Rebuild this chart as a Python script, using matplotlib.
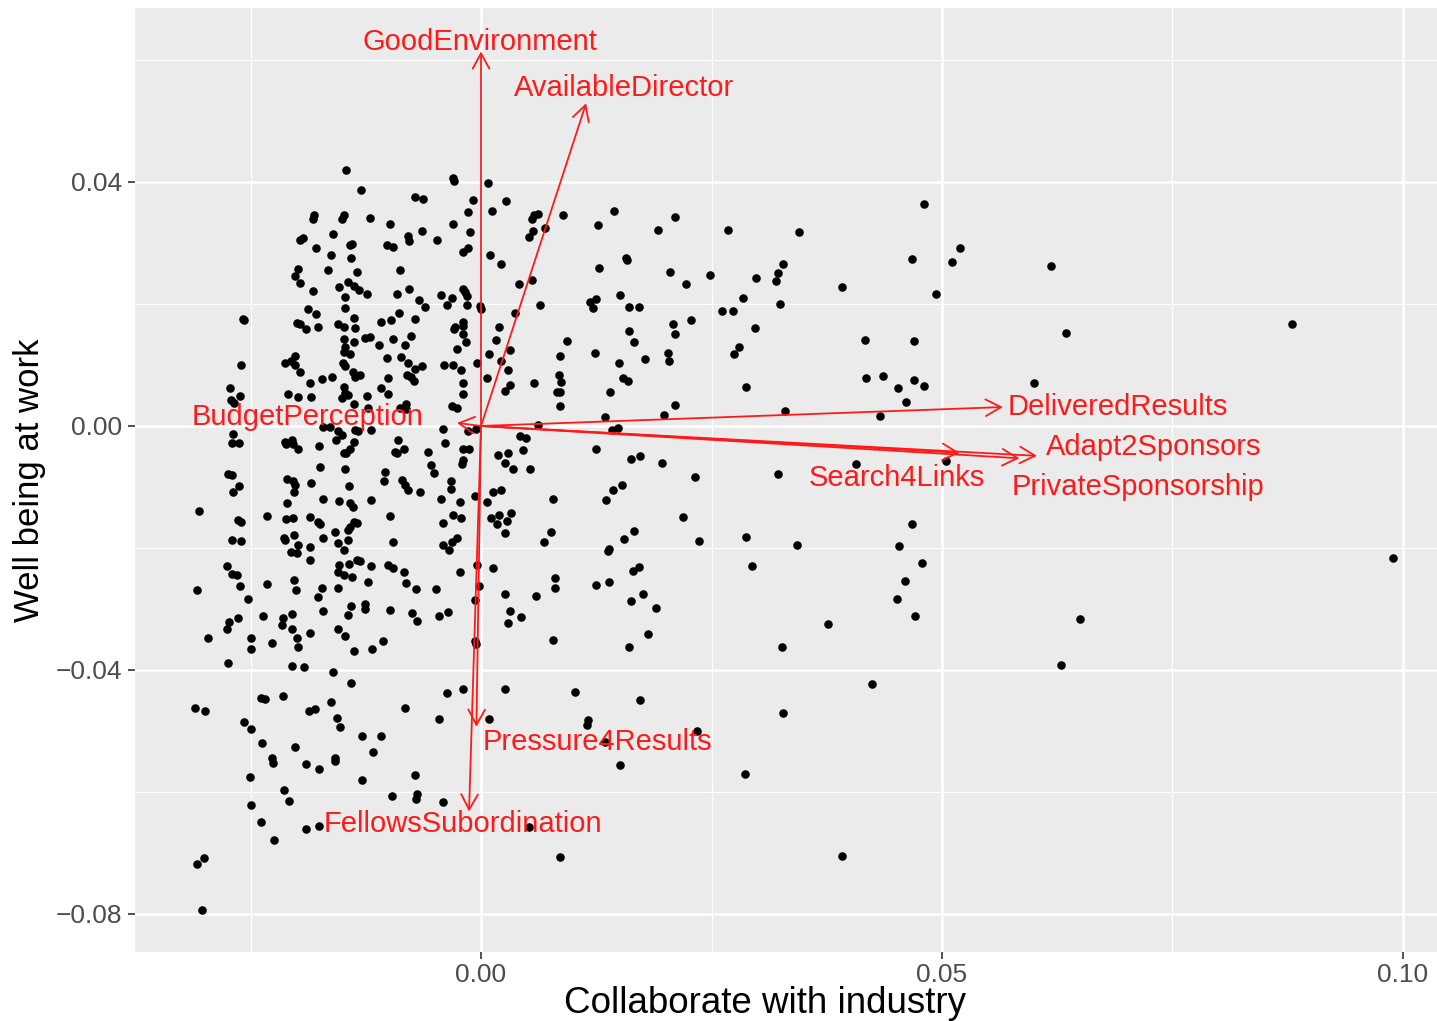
import numpy as np
import matplotlib.pyplot as plt

plt.rcParams['font.family'] = ['Liberation Sans', 'DejaVu Sans']

# individuals (scores)
pts = [
    # upper left block
    (-0.0146, 0.0420), (-0.0130, 0.0387), (-0.0181, 0.0346), (-0.0182, 0.0340), (-0.0149, 0.0346),
    (-0.0151, 0.0340), (-0.0120, 0.0341), (-0.0196, 0.0305), (-0.0193, 0.0308), (-0.0161, 0.0315),
    (-0.0140, 0.0299), (-0.0142, 0.0296), (-0.0179, 0.0292), (-0.0163, 0.0280), (-0.0141, 0.0275),
    (-0.0199, 0.0257), (-0.0202, 0.0246), (-0.0196, 0.0235), (-0.0166, 0.0255), (-0.0135, 0.0252),
    (-0.0182, 0.0221), (-0.0154, 0.0228), (-0.0144, 0.0236), (-0.0138, 0.0230), (-0.0132, 0.0223),
    (-0.0124, 0.0217), (-0.0148, 0.0211), (-0.0147, 0.0194), (-0.0188, 0.0191), (-0.0179, 0.0183),
    (-0.0258, 0.0175), (-0.0257, 0.0173), (-0.0200, 0.0169), (-0.0196, 0.0167), (-0.0190, 0.0159),
    (-0.0177, 0.0162), (-0.0155, 0.0168), (-0.0149, 0.0163), (-0.0138, 0.0177), (-0.0137, 0.0161),
    (-0.0149, 0.0142), (-0.0138, 0.0138), (-0.0126, 0.0144), (-0.0120, 0.0146), (-0.0147, 0.0130),
    (-0.0149, 0.0122), (-0.0142, 0.0118), (-0.0202, 0.0115), (-0.0213, 0.0103), (-0.0206, 0.0107),
    (-0.0202, 0.0100), (-0.0260, 0.0100), (-0.0150, 0.0103), (-0.0148, 0.0099), (-0.0196, 0.0088),
    (-0.0139, 0.0089), (-0.0137, 0.0081), (-0.0131, 0.0084), (-0.0185, 0.0071), (-0.0172, 0.0077),
    (-0.0162, 0.0081), (-0.0272, 0.0062), (-0.0209, 0.0053), (-0.0198, 0.0047), (-0.0184, 0.0047),
    (-0.0149, 0.0064), (-0.0148, 0.0054), (-0.0151, 0.0046), (-0.0144, 0.0050), (-0.0124, 0.0049),
    (-0.0261, 0.0049), (-0.0271, 0.0042), (-0.0268, 0.0038), (-0.0138, 0.0036), (-0.0123, 0.0029),
    # upper middle block
    (-0.0030, 0.0406), (-0.0029, 0.0401), (0.0008, 0.0399), (-0.0072, 0.0376), (-0.0063, 0.0372),
    (-0.0009, 0.0370), (0.0027, 0.0369), (0.0012, 0.0352), (-0.0014, 0.0350), (-0.0099, 0.0331),
    (-0.0030, 0.0331), (-0.0064, 0.0319), (-0.0012, 0.0318), (-0.0079, 0.0312), (-0.0078, 0.0303),
    (-0.0048, 0.0305), (-0.0102, 0.0296), (-0.0095, 0.0293), (-0.0014, 0.0292), (-0.0020, 0.0286),
    (0.0010, 0.0280), (0.0022, 0.0266), (0.0057, 0.0346), (0.0062, 0.0347), (0.0055, 0.0340),
    (0.0069, 0.0324), (0.0056, 0.0320), (0.0052, 0.0310), (0.0089, 0.0346), (-0.0088, 0.0255),
    (0.0055, 0.0239), (0.0041, 0.0232), (-0.0078, 0.0224), (-0.0091, 0.0216), (-0.0043, 0.0215),
    (-0.0020, 0.0225), (-0.0017, 0.0220), (-0.0015, 0.0213), (-0.0031, 0.0209), (-0.0067, 0.0207),
    (-0.0061, 0.0195), (-0.0037, 0.0198), (-0.0015, 0.0198), (-0.0001, 0.0196), (0.0000, 0.0192),
    (0.0064, 0.0199), (0.0037, 0.0185), (-0.0089, 0.0186), (-0.0109, 0.0170), (-0.0098, 0.0174),
    (-0.0072, 0.0176), (-0.0020, 0.0171), (-0.0019, 0.0164), (-0.0028, 0.0163), (-0.0029, 0.0159),
    (0.0019, 0.0163), (-0.0020, 0.0150), (-0.0096, 0.0142), (-0.0076, 0.0148), (-0.0016, 0.0138),
    (0.0016, 0.0141), (-0.0111, 0.0132), (-0.0082, 0.0132), (-0.0026, 0.0126), (0.0031, 0.0125),
    (0.0009, 0.0118), (-0.0102, 0.0112), (-0.0087, 0.0113), (-0.0079, 0.0104), (0.0022, 0.0107),
    (0.0086, 0.0114), (-0.0004, 0.0104), (-0.0064, 0.0099), (-0.0072, 0.0093), (-0.0040, 0.0100),
    (-0.0030, 0.0100), (-0.0022, 0.0092), (0.0029, 0.0092), (-0.0080, 0.0084), (-0.0076, 0.0081),
    (-0.0073, 0.0073), (-0.0101, 0.0079), (0.0085, 0.0083), (0.0087, 0.0072), (0.0006, 0.0078),
    (0.0058, 0.0070), (-0.0019, 0.0070), (0.0031, 0.0068), (0.0026, 0.0058), (-0.0109, 0.0063),
    (-0.0101, 0.0052), (-0.0019, 0.0052), (0.0082, 0.0055), (0.0086, 0.0055), (0.0086, 0.0033),
    (-0.0032, 0.0033), (-0.0026, 0.0029), (-0.0088, 0.0029), (-0.0081, 0.0036), (-0.0081, 0.0028),
    # lower left block
    (-0.0269, -0.0013), (-0.0270, -0.0028), (-0.0263, -0.0028), (-0.0213, -0.0026), (-0.0205, -0.0023),
    (-0.0204, -0.0030), (-0.0198, -0.0038), (-0.0211, -0.0030), (-0.0176, -0.0033), (-0.0171, -0.0001),
    (-0.0164, -0.0001), (-0.0155, -0.0009), (-0.0157, -0.0023), (-0.0151, -0.0015), (-0.0137, -0.0007),
    (-0.0133, -0.0009), (-0.0138, -0.0026), (-0.0142, -0.0037), (-0.0146, -0.0044), (-0.0149, -0.0045),
    (-0.0119, -0.0007), (-0.0274, -0.0078), (-0.0270, -0.0080), (-0.0262, -0.0098), (-0.0269, -0.0108),
    (-0.0175, -0.0067), (-0.0148, -0.0071), (-0.0210, -0.0087), (-0.0204, -0.0091), (-0.0202, -0.0097),
    (-0.0203, -0.0108), (-0.0184, -0.0093), (-0.0143, -0.0099), (-0.0171, -0.0119), (-0.0154, -0.0123),
    (-0.0142, -0.0126), (-0.0139, -0.0132), (-0.0119, -0.0121), (-0.0210, -0.0127), (-0.0306, -0.0139),
    (-0.0232, -0.0147), (-0.0264, -0.0154), (-0.0260, -0.0157), (-0.0211, -0.0153), (-0.0204, -0.0151),
    (-0.0185, -0.0149), (-0.0177, -0.0158), (-0.0175, -0.0161), (-0.0158, -0.0173), (-0.0138, -0.0157),
    (-0.0142, -0.0165), (-0.0144, -0.0170), (-0.0135, -0.0159), (-0.0270, -0.0187), (-0.0260, -0.0188),
    (-0.0214, -0.0184), (-0.0213, -0.0187), (-0.0203, -0.0178), (-0.0198, -0.0195), (-0.0206, -0.0207),
    (-0.0200, -0.0209), (-0.0171, -0.0184), (-0.0155, -0.0192), (-0.0144, -0.0187), (-0.0149, -0.0203),
    (-0.0185, -0.0199), (-0.0186, -0.0220), (-0.0276, -0.0229), (-0.0270, -0.0243), (-0.0265, -0.0245),
    (-0.0261, -0.0262), (-0.0232, -0.0259), (-0.0203, -0.0252), (-0.0201, -0.0269), (-0.0154, -0.0228),
    (-0.0155, -0.0239), (-0.0149, -0.0245), (-0.0140, -0.0247), (-0.0143, -0.0227), (-0.0135, -0.0220),
    (-0.0131, -0.0221), (-0.0119, -0.0229), (-0.0123, -0.0255), (-0.0155, -0.0266), (-0.0173, -0.0266),
    (-0.0177, -0.0280), (-0.0308, -0.0269), (-0.0253, -0.0284), (-0.0141, -0.0295), (-0.0126, -0.0292),
    (-0.0126, -0.0300), (-0.0171, -0.0303), (-0.0144, -0.0310), (-0.0205, -0.0308), (-0.0236, -0.0311),
    (-0.0264, -0.0314), (-0.0273, -0.0321), (-0.0275, -0.0333), (-0.0215, -0.0315), (-0.0216, -0.0326),
    (-0.0205, -0.0332), (-0.0155, -0.0333), (-0.0148, -0.0344), (-0.0185, -0.0339), (-0.0200, -0.0347),
    (-0.0198, -0.0363), (-0.0296, -0.0348), (-0.0249, -0.0348), (-0.0249, -0.0366), (-0.0227, -0.0356),
    (-0.0138, -0.0369), (-0.0118, -0.0366), (-0.0274, -0.0389), (-0.0205, -0.0393), (-0.0192, -0.0395),
    (-0.0160, -0.0404), (-0.0141, -0.0422), (-0.0310, -0.0463), (-0.0299, -0.0467), (-0.0239, -0.0446),
    (-0.0234, -0.0448), (-0.0215, -0.0442), (-0.0187, -0.0468), (-0.0180, -0.0464), (-0.0163, -0.0452),
    (-0.0156, -0.0479), (-0.0153, -0.0493), (-0.0257, -0.0485), (-0.0249, -0.0497), (-0.0238, -0.0520),
    (-0.0202, -0.0526), (-0.0129, -0.0508), (-0.0117, -0.0535), (-0.0227, -0.0545), (-0.0226, -0.0553),
    (-0.0190, -0.0554), (-0.0176, -0.0563), (-0.0158, -0.0544), (-0.0158, -0.0550), (-0.0251, -0.0575),
    (-0.0129, -0.0581), (-0.0214, -0.0597), (-0.0208, -0.0615), (-0.0249, -0.0622), (-0.0239, -0.0649),
    (-0.0190, -0.0661), (-0.0176, -0.0655), (-0.0224, -0.0679), (-0.0308, -0.0718), (-0.0300, -0.0709),
    (-0.0303, -0.0793),
    # lower middle block
    (-0.0041, -0.0005), (-0.0014, -0.0008), (-0.0005, -0.0005), (0.0062, 0.0001), (-0.0090, -0.0023),
    (-0.0039, -0.0028), (0.0042, -0.0016), (0.0049, -0.0020), (-0.0091, -0.0045), (-0.0093, -0.0042),
    (-0.0084, -0.0038), (-0.0057, -0.0043), (-0.0019, -0.0037), (-0.0013, -0.0037), (-0.0019, -0.0056),
    (-0.0021, -0.0062), (0.0018, -0.0048), (0.0029, -0.0044), (0.0046, -0.0039), (0.0026, -0.0061),
    (0.0035, -0.0071), (0.0053, -0.0071), (-0.0054, -0.0064), (-0.0051, -0.0077), (-0.0104, -0.0076),
    (-0.0105, -0.0090), (-0.0086, -0.0089), (-0.0082, -0.0097), (-0.0079, -0.0105), (-0.0066, -0.0108),
    (-0.0033, -0.0090), (-0.0033, -0.0104), (-0.0043, -0.0119), (-0.0023, -0.0125), (-0.0007, -0.0115),
    (0.0006, -0.0124), (0.0013, -0.0109), (0.0022, -0.0105), (0.0078, -0.0120), (-0.0099, -0.0148),
    (-0.0030, -0.0146), (-0.0022, -0.0151), (-0.0041, -0.0159), (0.0011, -0.0151), (0.0019, -0.0146),
    (0.0017, -0.0161), (0.0028, -0.0156), (0.0033, -0.0143), (0.0026, -0.0176), (0.0076, -0.0174),
    (0.0068, -0.0191), (-0.0096, -0.0191), (-0.0026, -0.0184), (-0.0031, -0.0191), (-0.0041, -0.0195),
    (-0.0035, -0.0204), (-0.0101, -0.0228), (-0.0095, -0.0232), (-0.0084, -0.0240), (-0.0081, -0.0258),
    (-0.0071, -0.0267), (-0.0049, -0.0267), (-0.0023, -0.0239), (-0.0004, -0.0228), (0.0013, -0.0232),
    (-0.0002, -0.0262), (0.0026, -0.0275), (0.0060, -0.0279), (0.0080, -0.0249), (0.0080, -0.0266),
    (-0.0007, -0.0286), (0.0031, -0.0304), (0.0029, -0.0323), (0.0043, -0.0313), (-0.0099, -0.0302),
    (-0.0075, -0.0307), (-0.0069, -0.0319), (-0.0046, -0.0311), (-0.0036, -0.0305), (-0.0106, -0.0352),
    (-0.0007, -0.0352), (-0.0005, -0.0357), (0.0078, -0.0351), (-0.0037, -0.0438), (-0.0020, -0.0431),
    (0.0026, -0.0431), (-0.0082, -0.0462), (-0.0046, -0.0480), (0.0009, -0.0480), (-0.0108, -0.0508),
    (-0.0072, -0.0572), (-0.0097, -0.0606), (-0.0069, -0.0603), (-0.0070, -0.0612), (-0.0041, -0.0616),
    (0.0052, -0.0658), (0.0086, -0.0706),
    # right, upper half
    (0.0144, 0.0352), (0.0127, 0.0330), (0.0210, 0.0343), (0.0192, 0.0321), (0.0268, 0.0321),
    (0.0345, 0.0318), (0.0480, 0.0364), (0.0467, 0.0274), (0.0519, 0.0291), (0.0511, 0.0269),
    (0.0494, 0.0216), (0.0391, 0.0228), (0.0157, 0.0275), (0.0158, 0.0272), (0.0128, 0.0259),
    (0.0205, 0.0253), (0.0222, 0.0232), (0.0248, 0.0247), (0.0298, 0.0243), (0.0328, 0.0266),
    (0.0322, 0.0251), (0.0320, 0.0237), (0.0324, 0.0200), (0.0284, 0.0209), (0.0261, 0.0189),
    (0.0273, 0.0189), (0.0228, 0.0173), (0.0208, 0.0168), (0.0210, 0.0150), (0.0297, 0.0161),
    (0.0118, 0.0204), (0.0125, 0.0208), (0.0122, 0.0193), (0.0151, 0.0215), (0.0160, 0.0195),
    (0.0171, 0.0195), (0.0161, 0.0156), (0.0166, 0.0138), (0.0093, 0.0139), (0.0124, 0.0120),
    (0.0150, 0.0103), (0.0178, 0.0110), (0.0203, 0.0119), (0.0204, 0.0107), (0.0154, 0.0079),
    (0.0159, 0.0074), (0.0140, 0.0055), (0.0135, 0.0014), (0.0198, 0.0018), (0.0210, 0.0034),
    (0.0287, 0.0064), (0.0280, 0.0129), (0.0274, 0.0118), (0.0330, 0.0024), (0.0417, 0.0141),
    (0.0418, 0.0078), (0.0436, 0.0082), (0.0452, 0.0062), (0.0470, 0.0139), (0.0470, 0.0075),
    (0.0480, 0.0065), (0.0461, 0.0039), (0.0433, 0.0017), (0.0142, -0.0007), (0.0149, -0.0004),
    (0.0618, 0.0262), (0.0635, 0.0152), (0.0600, 0.0071), (0.0880, 0.0168),
    # right, lower half
    (0.0125, -0.0038), (0.0163, -0.0054), (0.0172, -0.0049), (0.0196, -0.0061), (0.0232, -0.0083),
    (0.0322, -0.0079), (0.0407, -0.0062), (0.0504, -0.0057), (0.0143, -0.0105), (0.0153, -0.0096),
    (0.0136, -0.0122), (0.0219, -0.0150), (0.0166, -0.0172), (0.0155, -0.0185), (0.0138, -0.0205),
    (0.0139, -0.0202), (0.0236, -0.0189), (0.0287, -0.0182), (0.0294, -0.0230), (0.0343, -0.0195),
    (0.0171, -0.0231), (0.0165, -0.0237), (0.0125, -0.0261), (0.0139, -0.0256), (0.0176, -0.0276),
    (0.0163, -0.0287), (0.0190, -0.0299), (0.0181, -0.0341), (0.0161, -0.0363), (0.0326, -0.0363),
    (0.0376, -0.0325), (0.0467, -0.0160), (0.0453, -0.0196), (0.0478, -0.0225), (0.0460, -0.0254),
    (0.0451, -0.0283), (0.0471, -0.0311), (0.0424, -0.0423), (0.0102, -0.0436), (0.0172, -0.0449),
    (0.0328, -0.0471), (0.0116, -0.0482), (0.0115, -0.0490), (0.0234, -0.0500), (0.0134, -0.0518),
    (0.0151, -0.0556), (0.0286, -0.0570), (0.0391, -0.0705),
    (0.0989, -0.0216), (0.0650, -0.0317), (0.0629, -0.0392),
]
pt_x = np.array([p[0] for p in pts])
pt_y = np.array([p[1] for p in pts])

# variables (loadings): arrow tips and label positions
var_names = ['GoodEnvironment', 'AvailableDirector', 'BudgetPerception', 'DeliveredResults',
             'Adapt2Sponsors', 'Search4Links', 'PrivateSponsorship', 'Pressure4Results',
             'FellowsSubordination']
tip_x = [0.0000, 0.0114, -0.0026, 0.0566, 0.0603, 0.0519, 0.0584, -0.0005, -0.0013]
tip_y = [0.0614, 0.0529, 0.0005, 0.0031, -0.0049, -0.0044, -0.0053, -0.0493, -0.0632]
lab_x = [-0.0001, 0.0155, -0.0188, 0.0691, 0.0730, 0.0451, 0.0713, 0.0126, -0.0020]
lab_y = [0.0630, 0.0554, 0.0015, 0.0031, -0.0034, -0.0085, -0.0100, -0.0518, -0.0652]

x_major = [0.00, 0.05, 0.10]
x_major_lab = ['0.00', '0.05', '0.10']
y_major = [-0.08, -0.04, 0.00, 0.04]
y_major_lab = ['\u22120.08', '\u22120.04', '0.00', '0.04']
x_minor = [-0.025, 0.025, 0.075]
y_minor = [-0.06, -0.02, 0.02, 0.06]

fig = plt.figure(figsize=(14.37, 10.21), dpi=100)
ax = fig.add_axes([135 / 1437, 69 / 1021, 1302 / 1437, 944 / 1021])
ax.set_facecolor('#EBEBEB')
for s in ax.spines.values():
    s.set_visible(False)

ax.set_xlim(-0.03753, 0.10369)
ax.set_ylim(-0.08623, 0.06852)

for v in x_minor:
    ax.axvline(v, color='white', lw=0.9, zorder=0)
for v in y_minor:
    ax.axhline(v, color='white', lw=0.9, zorder=0)
for v in x_major:
    ax.axvline(v, color='white', lw=1.8, zorder=0)
for v in y_major:
    ax.axhline(v, color='white', lw=1.8, zorder=0)

ax.set_xticks(x_major)
ax.set_xticklabels(x_major_lab)
ax.set_yticks(y_major)
ax.set_yticklabels(y_major_lab)
ax.tick_params(axis='both', length=5, width=1.2, color='#333333', labelcolor='#4D4D4D',
               labelsize=19, pad=4)
ax.tick_params(axis='x', pad=3)

ax.scatter(pt_x, pt_y, s=38, color='black', linewidths=0, zorder=2)

for i, name in enumerate(var_names):
    ax.annotate('', xy=(tip_x[i], tip_y[i]), xytext=(0, 0),
                arrowprops=dict(arrowstyle='->,head_length=0.55,head_width=0.3', color='#FF1A1A',
                                lw=1.3, shrinkA=0, shrinkB=0, mutation_scale=20), zorder=3)
    ax.text(lab_x[i], lab_y[i], name, color='#FF1A1A', fontsize=21,
            ha='center', va='center', zorder=4)

# axis titles placed as in the reference
fig.text(765 / 1437, 1 - 1003 / 1021, 'Collaborate with industry', fontsize=26.5,
         color='black', ha='center', va='center')
fig.text(30 / 1437, 1 - 480 / 1021, 'Well being at work', fontsize=25, rotation=90,
         color='black', ha='center', va='center')

plt.savefig('out.png', dpi=100)
